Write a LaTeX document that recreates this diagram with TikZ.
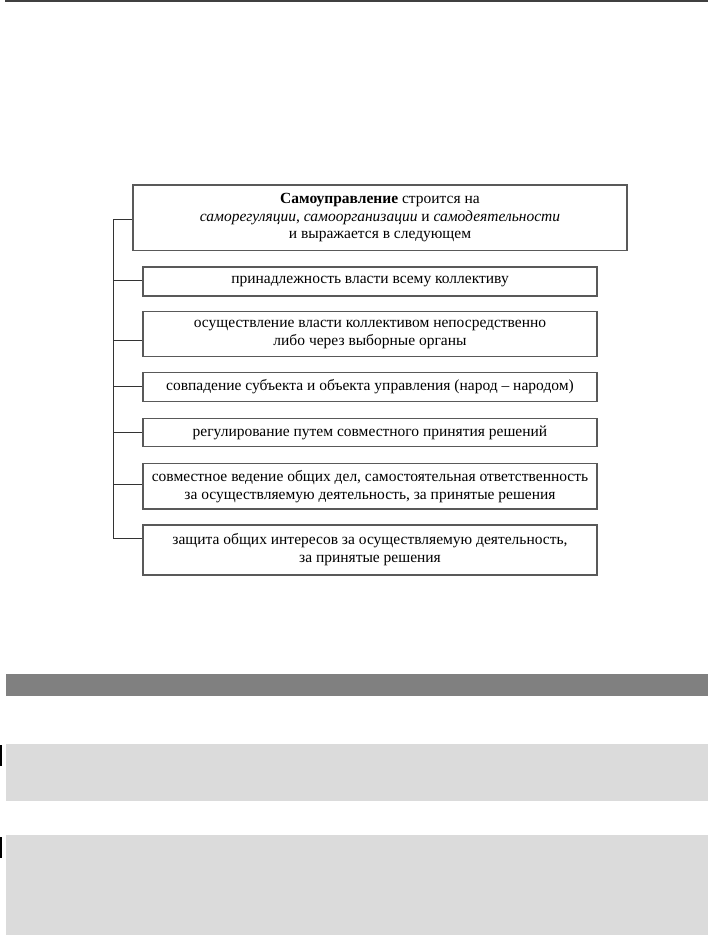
\documentclass[tikz,border=0pt]{standalone}
\usepackage{fontspec}
\setmainfont{Liberation Serif}
\begin{document}
\begin{tikzpicture}[x=1pt,y=-1pt,
  mainbox/.style={draw=black!65,line width=1.3pt,fill=white,inner sep=0pt,align=center,
    font=\fontsize{15.5}{17.8}\selectfont},
  subbox/.style={draw=black!65,line width=1.3pt,fill=white,inner sep=0pt,align=center,
    minimum width=454pt,font=\fontsize{15.5}{18}\selectfont},
  conn/.style={draw=black!80,line width=0.9pt}]
\useasboundingbox (0,0) rectangle (708,935);
% top rule
\draw[black!75,line width=1.2pt] (5,1) -- (708,1);
% main box
\node[mainbox,minimum width=494pt,minimum height=65.5pt] (main) at (380,217.7)
  {\textbf{Самоуправление} строится на\\
   \textit{саморегуляции}, \textit{самоорганизации} и \textit{самодеятельности}\\
   и выражается в следующем};
\node[subbox,minimum height=29pt] (b1) at (370,281.5) {принадлежность власти всему коллективу};
\node[subbox,minimum height=45pt] (b2) at (370,334.2) {осуществление власти коллективом непосредственно\\либо через выборные органы};
\node[subbox,minimum height=29.4pt] (b3) at (370,387) {совпадение субъекта и объекта управления (народ~–~народом)};
\node[subbox,minimum height=28.4pt] (b4) at (370,432.5) {регулирование путем совместного принятия решений};
\node[subbox,minimum height=45.7pt] (b5) at (370,486.2) {совместное ведение общих дел, самостоятельная ответственность\\за осуществляемую деятельность, за принятые решения};
\node[subbox,minimum height=50pt] (b6) at (370,550) {защита общих интересов за осуществляемую деятельность,\\за принятые решения};
% connectors
\coordinate (t0) at (113,219);
\coordinate (t1) at (113,280);
\coordinate (t2) at (113,340);
\coordinate (t3) at (113,386);
\coordinate (t4) at (113,432);
\coordinate (t5) at (113,484);
\coordinate (t6) at (113,538);
\draw[conn] (t0) -- (t6);
\draw[conn] (t0) -- (t0 -| main.west);
\draw[conn] (t1) -- (t1 -| b1.west);
\draw[conn] (t2) -- (t2 -| b2.west);
\draw[conn] (t3) -- (t3 -| b3.west);
\draw[conn] (t4) -- (t4 -| b4.west);
\draw[conn] (t5) -- (t5 -| b5.west);
\draw[conn] (t6) -- (t6 -| b6.west);
% bottom bars
\fill[black!50] (6,674) rectangle (708,696);
\fill[black!14] (6,744) rectangle (708,801);
\fill[black!14] (6,835) rectangle (708,935);
\fill[black] (0,745) rectangle (1.5,766);
\fill[black] (0,837) rectangle (1.5,858);
\end{tikzpicture}
\end{document}
